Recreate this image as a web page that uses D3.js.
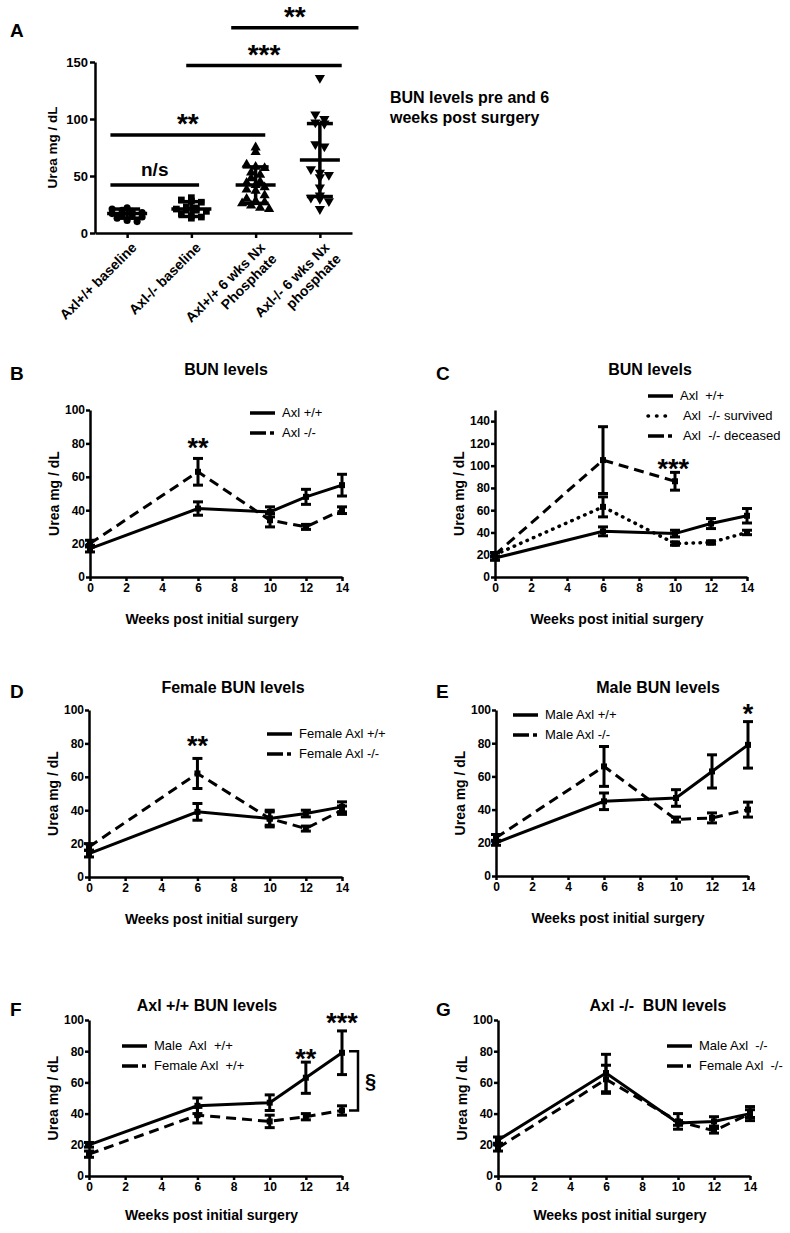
<!DOCTYPE html>
<html>
<head>
<meta charset="utf-8">
<script src="https://cdn.jsdelivr.net/npm/d3@7"></script>
<style>
body { margin: 0; background: #fff; }
svg { font-family: "Liberation Sans", Arial, sans-serif; }
.axis { font-family: "Liberation Sans", Arial, sans-serif; }
.axis path, .axis line { stroke: #000; stroke-width: 2.5; }
.axis text { font-weight: bold; font-size: 12px; fill: #000; }
</style>
</head>
<body>
<svg id="fig" width="790" height="1233"></svg>
<script>
// ---- panel A: scatter of BUN pre / post surgery ----
const groupsA = ["Axl+/+ baseline", "Axl-/- baseline", "Axl+/+ 6 wks Nx|Phosphate", "Axl-/- 6 wks Nx|phosphate"];
const shapesA = ["circle", "square", "triangle", "triangleDown"];
const wtBaseline = [22, 21, 20, 19, 18, 17, 16, 15, 14, 13, 11, 10];
const koBaseline = [31, 29, 28, 27, 23, 22, 21, 20, 20, 19, 17, 15, 14, 13];
const wtNx = [75, 71, 60, 58, 57, 53, 51, 48, 45, 44, 42, 40, 38, 37, 33, 30, 28, 27, 26, 24, 22, 21];
const koNx = [136, 104, 100, 97, 96, 78, 76, 56, 53, 51, 49, 40, 33, 31, 30, 28, 21];
const meanA = [17, 21, 42, 64];
const sdA = [4, 6.5, 16, 32];
const ticksA = [0, 50, 100, 150];
// significance bars in category-index units
const sigA = [
    {from: -0.26, to: 1.12, y: 42, label: "n/s"},
    {from: -0.26, to: 2.15, y: 86, label: "**"},
    {from: 0.92, to: 3.34, y: 147, label: "***"},
    {from: 1.62, to: 3.6, y: 180, label: "**"}
];

// ---- time course panels ----
const weeks = [0, 6, 10, 12, 14];
const weekTicks = [0, 2, 4, 6, 8, 10, 12, 14];
const allWtMean = [17, 41, 39, 48, 55];
const allWtErr = [2, 4, 3, 4.5, 6.5];
const allKoMean = [20, 63, 34, 30, 40];
const allKoErr = [2, 8, 4, 1.5, 2];
const survivedMean = [20, 63, 30, 31, 40];
const survivedErr = [2, 9, 1.5, 1.5, 2];
const deceasedWeeks = [0, 6, 10];
const deceasedMean = [20, 105, 86];
const deceasedErr = [2, 30, 8];
const femaleWtMean = [14, 39, 35, 38, 42];
const femaleWtErr = [2, 5, 4, 2, 3];
const femaleKoMean = [18, 62, 35, 29, 40];
const femaleKoErr = [2, 9, 5, 1.5, 2.5];
const maleWtMean = [20, 45, 47, 63, 79];
const maleWtErr = [1.5, 5, 5, 10, 14];
const maleKoMean = [23, 66, 34, 35, 40];
const maleKoErr = [2, 12, 1.5, 3, 4.5];
const ticks100 = [0, 20, 40, 60, 80, 100];
const ticks140 = [0, 20, 40, 60, 80, 100, 120, 140];

const svg = d3.select("#fig");

function letter(txt, x, y) {
    svg.append("text").attr("x", x).attr("y", y)
        .style("font-weight", "bold").style("font-size", "19px").text(txt);
}

function stars(x, y, label, size) {
    // asterisks sit high in the em box, so shift baseline down
    svg.append("text").attr("x", x).attr("y", y + size * 0.55)
        .attr("text-anchor", "middle")
        .style("font-weight", "bold").style("font-size", size + "px")
        .text(label);
}

// spread points with similar values side by side (like a column scatter)
function swarm(values, cx, binSize, step) {
    const out = [];
    d3.groups(values, v => Math.round(v / binSize)).forEach(([, vs]) => {
        vs.forEach((v, i) => out.push({v: v, x: cx + (i - (vs.length - 1) / 2) * step}));
    });
    return out;
}

function drawPanelA() {
    const yA = d3.scaleLinear().domain([0, 150]).range([233, 62]);
    const xA = d3.scaleLinear().domain([-0.5, 3.5]).range([95, 352]);

    svg.append("g").attr("class", "axis")
        .attr("transform", "translate(0,233)")
        .call(d3.axisBottom(xA).tickValues([0, 1, 2, 3]).tickFormat("").tickSize(5).tickSizeOuter(0));
    svg.append("g").attr("class", "axis")
        .attr("transform", "translate(95,0)")
        .call(d3.axisLeft(yA).tickValues(ticksA).tickSize(5).tickSizeOuter(0).tickPadding(2))
        .selectAll("text").style("font-size", "13px");

    const valuesA = [wtBaseline, koBaseline, wtNx, koNx];
    const symbols = {
        circle: d3.symbol(d3.symbolCircle, 40)(),
        square: d3.symbol(d3.symbolSquare, 45)(),
        triangle: d3.symbol(d3.symbolTriangle, 45)(),
        triangleDown: d3.symbol(d3.symbolTriangle, 45)()
    };
    valuesA.forEach((vals, i) => {
        const cx = xA(i);
        const pts = swarm(vals, cx, i < 2 ? 4 : 6, i < 2 ? 10 : 9);
        svg.append("g").selectAll("path").data(pts).join("path")
            .attr("transform", d => `translate(${d.x},${yA(d.v)})` + (shapesA[i] === "triangleDown" ? " rotate(180)" : ""))
            .attr("d", symbols[shapesA[i]])
            .attr("fill", "#000");
        const g = svg.append("g").attr("stroke", "#000").attr("stroke-width", 3.5);
        g.append("line").attr("x1", cx - 20).attr("x2", cx + 20)
            .attr("y1", yA(meanA[i])).attr("y2", yA(meanA[i]));
        g.append("line").attr("x1", cx).attr("x2", cx)
            .attr("y1", yA(meanA[i] - sdA[i])).attr("y2", yA(meanA[i] + sdA[i]));
        [meanA[i] - sdA[i], meanA[i] + sdA[i]].forEach(v => {
            g.append("line").attr("x1", cx - 13).attr("x2", cx + 13)
                .attr("y1", yA(v)).attr("y2", yA(v));
        });

        const t = svg.append("text")
            .attr("transform", `translate(${cx + 7},${245}) rotate(-45)`)
            .attr("text-anchor", "end")
            .style("font-weight", "bold").style("font-size", "14px");
        groupsA[i].split("|").forEach((line, k) => {
            t.append("tspan").attr("x", 0).attr("dy", k === 0 ? "0.35em" : "1.15em").text(line);
        });
    });

    sigA.forEach(s => {
        svg.append("line").attr("x1", xA(s.from)).attr("x2", xA(s.to))
            .attr("y1", yA(s.y)).attr("y2", yA(s.y))
            .attr("stroke", "#000").attr("stroke-width", 3.5);
        const mx = (xA(s.from) + xA(s.to)) / 2;
        if (s.label === "n/s") {
            svg.append("text").attr("x", mx).attr("y", yA(s.y) - 9)
                .attr("text-anchor", "middle")
                .style("font-weight", "bold").style("font-size", "19px").text(s.label);
        } else {
            stars(mx, yA(s.y) - 17, s.label, 28);
        }
    });

    svg.append("text")
        .attr("transform", `translate(57,${yA(75)}) rotate(-90)`)
        .attr("text-anchor", "middle")
        .style("font-weight", "bold").style("font-size", "13.5px")
        .text("Urea mg / dL");

    svg.append("text").attr("x", 390).attr("y", 103)
        .style("font-weight", "bold").style("font-size", "16px")
        .text("BUN levels pre and 6");
    svg.append("text").attr("x", 390).attr("y", 123)
        .style("font-weight", "bold").style("font-size", "16px")
        .text("weeks post surgery");
    letter("A", 10, 37);
}

const styles = {
    solid: {chart: null, legend: null, width: 3},
    dashed: {chart: "10,6", legend: "16,4,4,10", width: 3},
    dotted: {chart: "0.5,6.5", legend: "0.5,8", width: 3.5, round: true}
};

function linePanel(p) {
    const x = d3.scaleLinear().domain([0, 14]).range([p.left, p.right]);
    const y = d3.scaleLinear().domain([0, p.yMax]).range([p.bottom, p.top]);

    svg.append("g").attr("class", "axis")
        .attr("transform", `translate(0,${p.bottom})`)
        .call(d3.axisBottom(x).tickValues(weekTicks).tickSize(4).tickSizeOuter(0).tickPadding(2));
    svg.append("g").attr("class", "axis")
        .attr("transform", `translate(${p.left},0)`)
        .call(d3.axisLeft(y).tickValues(p.yTicks).tickSize(4).tickSizeOuter(0).tickPadding(1));

    p.series.forEach(s => {
        const st = styles[s.style];
        const pts = s.weeks.map((w, i) => ({w: w, m: s.mean[i], e: s.err[i]}));
        svg.append("path").datum(pts)
            .attr("d", d3.line().x(d => x(d.w)).y(d => y(d.m)))
            .attr("fill", "none").attr("stroke", "#000")
            .attr("stroke-width", st.width)
            .attr("stroke-dasharray", st.chart)
            .attr("stroke-linecap", st.round ? "round" : "butt");
        const eb = svg.append("g").attr("stroke", "#000").attr("stroke-width", 3);
        pts.forEach(d => {
            eb.append("line").attr("x1", x(d.w)).attr("x2", x(d.w))
                .attr("y1", y(d.m - d.e)).attr("y2", y(d.m + d.e));
            [d.m - d.e, d.m + d.e].forEach(v => {
                eb.append("line").attr("x1", x(d.w) - 5).attr("x2", x(d.w) + 5)
                    .attr("y1", y(v)).attr("y2", y(v));
            });
        });
        svg.append("g").selectAll("rect").data(pts).join("rect")
            .attr("x", d => x(d.w) - 3).attr("y", d => y(d.m) - 3)
            .attr("width", 6).attr("height", 6).attr("fill", "#000");
    });

    p.legend.forEach((l, i) => {
        const ly = p.legendY + i * 20;
        const st = styles[l.style];
        svg.append("line")
            .attr("x1", p.legendX).attr("x2", p.legendX + (l.style === "dotted" ? 20 : 25))
            .attr("y1", ly - 4).attr("y2", ly - 4)
            .attr("stroke", "#000").attr("stroke-width", 3.5)
            .attr("stroke-dasharray", st.legend)
            .attr("stroke-linecap", st.round ? "round" : "butt");
        svg.append("text").attr("x", p.legendX + 32).attr("y", ly)
            .style("font-size", "13px").style("white-space", "pre")
            .text(l.label);
    });

    (p.stars || []).forEach(s => stars(x(s.week), y(s.value), s.label, 27));

    svg.append("text")
        .attr("x", (p.left + p.right) / 2 - 4).attr("y", p.bottom + (p.labelGap || 47))
        .attr("text-anchor", "middle")
        .style("font-weight", "bold").style("font-size", "14px")
        .text("Weeks post initial surgery");
    svg.append("text")
        .attr("transform", `translate(${p.left - 31},${(p.top + p.bottom) / 2}) rotate(-90)`)
        .attr("text-anchor", "middle")
        .style("font-weight", "bold").style("font-size", "14px")
        .text("Urea mg / dL");
    svg.append("text")
        .attr("x", p.titleX).attr("y", p.titleY)
        .attr("text-anchor", "middle")
        .style("font-weight", "bold").style("font-size", "16px").style("white-space", "pre")
        .text(p.title);
    letter(p.letter, p.letterX, p.titleY + 5);
    return {x: x, y: y};
}

drawPanelA();

linePanel({
    letter: "B", letterX: 10, title: "BUN levels", titleX: 226, titleY: 375,
    left: 90, right: 342, top: 410, bottom: 577, yMax: 100, yTicks: ticks100,
    series: [
        {weeks: weeks, mean: allWtMean, err: allWtErr, style: "solid"},
        {weeks: weeks, mean: allKoMean, err: allKoErr, style: "dashed"}
    ],
    legend: [{label: "Axl +/+", style: "solid"}, {label: "Axl -/-", style: "dashed"}],
    legendX: 250, legendY: 417,
    stars: [{week: 6, value: 81, label: "**"}]
});

linePanel({
    letter: "C", letterX: 436, title: "BUN levels", titleX: 650, titleY: 375,
    left: 495, right: 747, top: 410, bottom: 577, yMax: 150, yTicks: ticks140,
    series: [
        {weeks: weeks, mean: allWtMean, err: allWtErr, style: "solid"},
        {weeks: weeks, mean: survivedMean, err: survivedErr, style: "dotted"},
        {weeks: deceasedWeeks, mean: deceasedMean, err: deceasedErr, style: "dashed"}
    ],
    legend: [
        {label: "Axl  +/+", style: "solid"},
        {label: " Axl  -/- survived", style: "dotted"},
        {label: " Axl  -/- deceased", style: "dashed"}
    ],
    legendX: 648, legendY: 400,
    stars: [{week: 9.9, value: 102, label: "***"}]
});

linePanel({
    letter: "D", letterX: 10, title: "Female BUN levels", titleX: 233, titleY: 693,
    left: 89, right: 342, top: 710, bottom: 877, yMax: 100, yTicks: ticks100,
    series: [
        {weeks: weeks, mean: femaleWtMean, err: femaleWtErr, style: "solid"},
        {weeks: weeks, mean: femaleKoMean, err: femaleKoErr, style: "dashed"}
    ],
    legend: [{label: "Female Axl +/+", style: "solid"}, {label: "Female Axl -/-", style: "dashed"}],
    legendX: 267, legendY: 738,
    stars: [{week: 6, value: 82, label: "**"}]
});

linePanel({
    letter: "E", letterX: 436, title: "Male BUN levels", titleX: 658, titleY: 693,
    left: 496, right: 748, top: 710, bottom: 876, yMax: 100, yTicks: ticks100,
    series: [
        {weeks: weeks, mean: maleWtMean, err: maleWtErr, style: "solid"},
        {weeks: weeks, mean: maleKoMean, err: maleKoErr, style: "dashed"}
    ],
    legend: [{label: "Male Axl +/+", style: "solid"}, {label: "Male Axl -/-", style: "dashed"}],
    legendX: 513, legendY: 719,
    stars: [{week: 14, value: 101, label: "*"}]
});

const panelF = linePanel({
    letter: "F", letterX: 10, title: "Axl +/+ BUN levels", titleX: 207, titleY: 1011,
    left: 89, right: 342, top: 1020, bottom: 1176, yMax: 100, yTicks: ticks100, labelGap: 44,
    series: [
        {weeks: weeks, mean: maleWtMean, err: maleWtErr, style: "solid"},
        {weeks: weeks, mean: femaleWtMean, err: femaleWtErr, style: "dashed"}
    ],
    legend: [{label: "Male  Axl  +/+", style: "solid"}, {label: "Female Axl  +/+", style: "dashed"}],
    legendX: 122, legendY: 1050,
    stars: [{week: 12, value: 79, label: "**"}, {week: 14, value: 102, label: "***"}]
});

// bracket between male and female at week 14
const bx = panelF.x(14) + 16;
const br = svg.append("g").attr("stroke", "#000").attr("stroke-width", 2.5).attr("fill", "none");
br.append("path").attr("d", `M${bx - 9},${panelF.y(80)}H${bx}V${panelF.y(42)}H${bx - 9}`);
svg.append("text").attr("x", bx + 7).attr("y", panelF.y(61) + 7)
    .style("font-weight", "bold").style("font-size", "20px").text("§");

linePanel({
    letter: "G", letterX: 436, title: "Axl -/-  BUN levels", titleX: 658, titleY: 1011,
    left: 498, right: 750, top: 1020, bottom: 1176, yMax: 100, yTicks: ticks100, labelGap: 44,
    series: [
        {weeks: weeks, mean: maleKoMean, err: maleKoErr, style: "solid"},
        {weeks: weeks, mean: femaleKoMean, err: femaleKoErr, style: "dashed"}
    ],
    legend: [{label: "Male Axl  -/-", style: "solid"}, {label: "Female Axl  -/-", style: "dashed"}],
    legendX: 667, legendY: 1050
});
</script>
</body>
</html>
